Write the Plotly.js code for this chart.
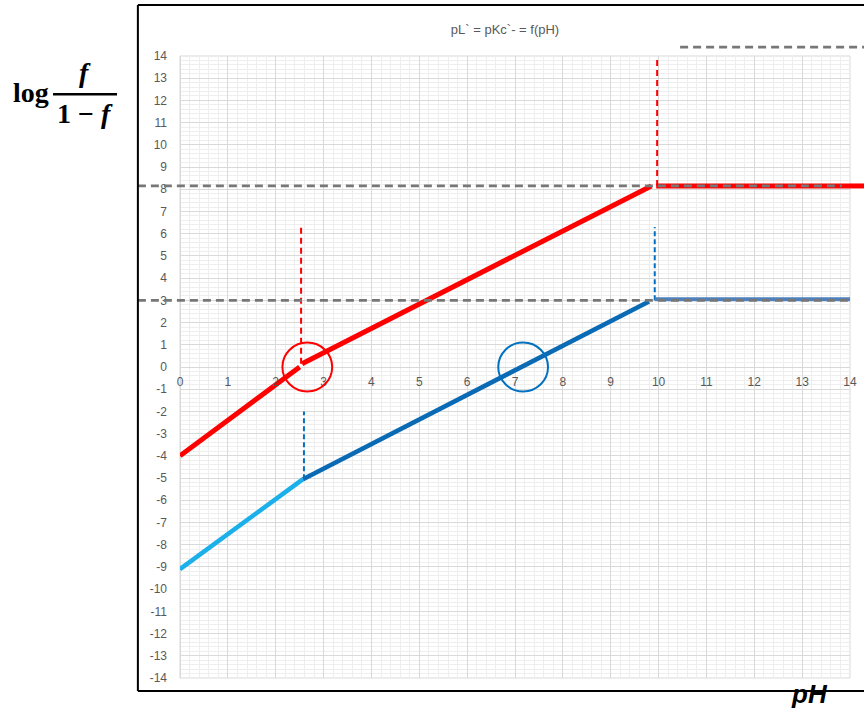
<!DOCTYPE html>
<html>
<head>
<meta charset="utf-8">
<script src="https://cdn.plot.ly/plotly-3.0.1.min.js"></script>
<style>html,body{margin:0;padding:0;background:#fff;}#chart{width:864px;height:710px;}</style>
</head>
<body>
<div id="chart"></div>
<script>
// ---- data ----
const xRange = [0, 14];
const yRange = [-14, 14];
const xTicks = [0,1,2,3,4,5,6,7,8,9,10,11,12,13,14];
const yTicks = [-14,-13,-12,-11,-10,-9,-8,-7,-6,-5,-4,-3,-2,-1,0,1,2,3,4,5,6,7,8,9,10,11,12,13,14];

// red curve (pL')
const redLowX = [0, 2.5];
const redLowY = [-4.0, 0.0];
const redUpX = [2.55, 9.85];
const redUpY = [0.15, 8.15];
const redFlatX = [9.95, 14.3];
const redFlatY = [8.15, 8.15];

// blue curve (pKc')
const lightBlueX = [0, 2.57];
const lightBlueY = [-9.1, -5.05];
const darkBlueX = [2.57, 9.8];
const darkBlueY = [-5.05, 2.95];
const blueFlatX = [9.92, 14.0];
const blueFlatY = [3.05, 3.05];

// vertical dashed markers
const redDrop1X = [2.53, 2.53];
const redDrop1Y = [0.15, 6.3];
const redDrop2X = [9.97, 9.97];
const redDrop2Y = [8.15, 14];
const blueDrop1X = [2.59, 2.59];
const blueDrop1Y = [-5.05, -2.0];
const blueDrop2X = [9.92, 9.92];
const blueDrop2Y = [3.0, 6.3];

// grey dashed guide levels
const grayLevels = [8.15, 3.0];
const grayStartX = [-0.88, -0.88];
const grayEndX = [13.83, 14.0];
const topGuideX = [10.45, 14.3];
const topGuideY = 14.4;

// circles (centres and half-sizes)
const circleX = [2.66, 7.17];
const circleY = [0, 0];
const circleRX = 0.52;
const circleRY = 1.1;
const circleColors = ['#ff0000', '#0070c0'];

// frame (in axis units)
const frameLeftX = -0.88;
const frameRightX = 14.6;
const frameTopY = 16.3;
const frameBottomY = -14.58;

// ---- helpers: axis units -> paper ----
const px = v => (v - xRange[0]) / (xRange[1] - xRange[0]);
const py = v => (v - yRange[0]) / (yRange[1] - yRange[0]);

function line(x, y, color, width, dash) {
  return {type: 'scatter', mode: 'lines', x: x, y: y, hoverinfo: 'skip',
    line: {color: color, width: width, dash: dash || 'solid'}, showlegend: false};
}

const traces = [
  line(redDrop1X, redDrop1Y, '#ff0000', 2, '6px,4px'),
  line(redDrop2X, redDrop2Y, '#ff0000', 2, '6px,4px'),
  line(blueDrop1X, blueDrop1Y, '#0070c0', 2, '5px,3px'),
  line(blueDrop2X, blueDrop2Y, '#0070c0', 2, '5px,3px'),
  line(redLowX, redLowY, '#ff0000', 5),
  line(redUpX, redUpY, '#ff0000', 5),
  line(redFlatX, redFlatY, '#ff0000', 5),
  line(lightBlueX, lightBlueY, '#1cb0ea', 4.5),
  line(darkBlueX, darkBlueY, '#0a6ab4', 4.5),
  line(blueFlatX, blueFlatY, '#4f81bd', 4)
];

const shapes = [];
// plot-area border
shapes.push({type:'rect', xref:'paper', yref:'paper', x0:0, x1:1, y0:0, y1:1,
  line:{color:'#d9d9d9', width:1}, layer:'below'});
// red flat extension beyond plot area
shapes.push({type:'line', xref:'paper', yref:'paper', x0:px(xRange[1]), x1:px(redFlatX[1]),
  y0:py(redFlatY[1]), y1:py(redFlatY[1]), line:{color:'#ff0000', width:5}});
// grey dashed guides
grayLevels.forEach((lv, i) => {
  shapes.push({type:'line', xref:'paper', yref:'paper', x0:px(grayStartX[i]), x1:px(grayEndX[i]),
    y0:py(lv), y1:py(lv), line:{color:'#777777', width:2.8, dash:'8px,5px'}, layer:'above'});
});
shapes.push({type:'line', xref:'paper', yref:'paper', x0:px(topGuideX[0]), x1:px(topGuideX[1]),
  y0:py(topGuideY), y1:py(topGuideY), line:{color:'#777777', width:2.8, dash:'8px,5px'}});
// circles
circleX.forEach((cx, i) => {
  shapes.push({type:'circle', xref:'x', yref:'y', x0:cx-circleRX, x1:cx+circleRX,
    y0:circleY[i]-circleRY, y1:circleY[i]+circleRY, line:{color:circleColors[i], width:2}, layer:'above'});
});
// outer black frame
shapes.push({type:'line', xref:'paper', yref:'paper', x0:px(frameLeftX), x1:px(frameLeftX),
  y0:py(frameBottomY), y1:py(frameTopY), line:{color:'#000', width:2}});
shapes.push({type:'line', xref:'paper', yref:'paper', x0:px(frameLeftX), x1:px(frameRightX),
  y0:py(frameTopY), y1:py(frameTopY), line:{color:'#000', width:2}});
shapes.push({type:'line', xref:'paper', yref:'paper', x0:px(frameLeftX), x1:px(frameRightX),
  y0:py(frameBottomY), y1:py(frameBottomY), line:{color:'#000', width:2}});
// fraction bar of the y label
shapes.push({type:'line', xref:'paper', yref:'paper', x0:-0.1895, x1:-0.0940,
  y0:0.9384, y1:0.9384, line:{color:'#000', width:2.5}});

const tickFont = {family:'Liberation Sans, Arial, sans-serif', size:12, color:'#595959'};

const layout = {
  width: 864, height: 710,
  margin: {l:180, r:14, t:56, b:32},
  paper_bgcolor: '#ffffff', plot_bgcolor: '#ffffff',
  showlegend: false,
  title: {text: 'pL` = pKc`- = f(pH)', x: 0.5845, xref:'container', y: 0.958, yref:'container',
    xanchor:'center', yanchor:'middle', font:{family:'Liberation Sans, Arial, sans-serif', size:13, color:'#595959'}},
  xaxis: {range: xRange, tickvals: xTicks, ticktext: xTicks.map(String), anchor:'free', position: py(0),
    showline:false, zeroline:true, zerolinecolor:'#d9d9d9', gridcolor:'#d9d9d9', gridwidth:1,
    ticks:'', ticklabelstandoff: 6, tickfont: tickFont, fixedrange:true,
    minor:{dtick:0.2, showgrid:true, gridcolor:'#eeeeee', gridwidth:1}},
  yaxis: {range: yRange, tickvals: yTicks, ticktext: yTicks.map(String),
    showline:false, zeroline:true, zerolinecolor:'#d9d9d9', gridcolor:'#d9d9d9', gridwidth:1,
    ticks:'', ticklabelstandoff: 12, tickfont: tickFont, fixedrange:true,
    minor:{dtick:0.2, showgrid:true, gridcolor:'#eeeeee', gridwidth:1}},
  shapes: shapes,
  annotations: [
    {xref:'paper', yref:'paper', x:-0.2224, y:0.942, xanchor:'center', yanchor:'middle', showarrow:false,
      text:'<b>log</b>', font:{family:'Liberation Serif, DejaVu Serif, serif', size:28, color:'#000'}},
    {xref:'paper', yref:'paper', x:-0.1418, y:0.973, xanchor:'center', yanchor:'middle', showarrow:false,
      text:'<b><i>f</i></b>', font:{family:'Liberation Serif, DejaVu Serif, serif', size:28, color:'#000'}},
    {xref:'paper', yref:'paper', x:-0.1418, y:0.907, xanchor:'center', yanchor:'middle', showarrow:false,
      text:'<b>1 − <i>f</i></b>', font:{family:'Liberation Serif, DejaVu Serif, serif', size:28, color:'#000'}},
    {xref:'paper', yref:'paper', x:0.940, y:-0.025, xanchor:'center', yanchor:'middle', showarrow:false,
      text:'<b><i>pH</i></b>', font:{family:'Liberation Sans, Arial, sans-serif', size:26, color:'#000'}}
  ]
};

Plotly.newPlot('chart', traces, layout, {displayModeBar:false, staticPlot:true});
</script>
</body>
</html>
